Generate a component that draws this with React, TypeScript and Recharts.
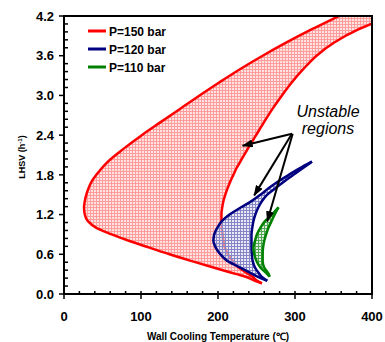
import {
  Area,
  ComposedChart,
  Customized,
  ReferenceArea,
  ReferenceLine,
  XAxis,
  YAxis,
} from "recharts";

const lhsv = [
  0.16, 0.2, 0.26, 0.3, 0.4, 0.5, 0.6, 0.7, 0.8, 0.9, 1.0, 1.1, 1.2, 1.31, 1.4,
  1.5, 1.6, 1.7, 1.8, 1.9, 2.0, 2.2, 2.4, 2.6, 2.8, 3.0, 3.2, 3.4, 3.6, 3.8, 4.0,
  4.2,
];

// wall cooling temperature (C) of left / right edge of each unstable region
const p150Left = [
  257, 248, 236, 224, 194, 165, 137, 111, 85, 62, 42, 31, 27, 26, 27, 29, 32, 36,
  42, 49, 57, 78, 101, 126, 151, 176, 202, 229, 258, 289, 322, 357,
];
const p150Right = [
  257, 251, 245, 240, 227, 219, 213, 209, 207, 206, 205, 204.5, 204.5, 205.5,
  207, 209.5, 212.5, 216, 220, 224, 229, 239, 249.5, 260, 271, 283, 296, 311, 328,
  351, 383, 425,
];
const p120Left = [
  null, 264, 252, 245, 229, 212, 203, 197, 194, 195, 199, 205, 215, 230, 243,
  255, 266, 278, 292, 306, 322, null, null, null, null, null, null, null, null,
  null, null, null,
];
const p120Right = [
  null, 264, 257, 254, 248, 245, 244, 243.5, 243.5, 243.5, 244.5, 246, 248.5,
  252.5, 257, 264, 275, 286, 298, 310, 322, null, null, null, null, null, null,
  null, null, null, null, null,
];
const p110Left = [
  null, null, 267, 264, 255, 250, 247, 246, 248, 250.5, 255, 261, 270, 278.5,
  null, null, null, null, null, null, null, null, null, null, null, null, null,
  null, null, null, null, null,
];
const p110Right = [
  null, null, 267, 266, 260, 258, 258, 258.5, 260, 262.5, 265.5, 269.5, 273.5,
  278.5, null, null, null, null, null, null, null, null, null, null, null, null,
  null, null, null, null, null, null,
];

const xTicks = [0, 100, 200, 300, 400];
const xMinorTicks = [
  0, 20, 40, 60, 80, 100, 120, 140, 160, 180, 200, 220, 240, 260, 280, 300, 320,
  340, 360, 380, 400,
];
const yTicks = [0, 0.6, 1.2, 1.8, 2.4, 3.0, 3.6, 4.2];
const yMinorTicks = [
  0, 0.12, 0.24, 0.36, 0.48, 0.6, 0.72, 0.84, 0.96, 1.08, 1.2, 1.32, 1.44, 1.56,
  1.68, 1.8, 1.92, 2.04, 2.16, 2.28, 2.4, 2.52, 2.64, 2.76, 2.88, 3.0, 3.12, 3.24,
  3.36, 3.48, 3.6, 3.72, 3.84, 3.96, 4.08, 4.2,
];

const series = [
  { key: "p150", name: "P=150 bar", color: "#ff0000", pattern: "hatchRed" },
  { key: "p120", name: "P=120 bar", color: "#000080", pattern: "hatchBlue" },
  { key: "p110", name: "P=110 bar", color: "#008000", pattern: "hatchGreen" },
];

// arrows from the "Unstable regions" note, in data units
const arrows = [
  { from: { x: 296, y: 2.42 }, to: { x: 232, y: 2.24 } },
  { from: { x: 296, y: 2.42 }, to: { x: 247, y: 1.49 } },
  { from: { x: 297, y: 2.42 }, to: { x: 264, y: 1.1 } },
];

const rows = lhsv.map((y, i) => ({
  y,
  p150: [p150Left[i], p150Right[i]],
  p120: [p120Left[i], p120Right[i]],
  p110: [p110Left[i], p110Right[i]],
}));

const font = "'Liberation Sans', Arial, sans-serif";

const XTick = ({ x, y, payload }: any) => {
  const major = xTicks.includes(payload.value);
  return (
    <g>
      <line x1={x} x2={x} y1={y - 3} y2={major ? y + 5 : y} stroke="#000" strokeWidth={1.5} />
      {major && (
        <text x={x} y={y + 27} textAnchor="middle" fontFamily={font} fontWeight="bold" fontSize={13} fill="#000">
          {payload.value}
        </text>
      )}
    </g>
  );
};

const YTick = ({ x, y, payload }: any) => {
  const major = yTicks.includes(payload.value);
  return (
    <g>
      {major ? (
        <line x1={x - 5} x2={x} y1={y} y2={y} stroke="#000" strokeWidth={1.5} />
      ) : (
        <line x1={x} x2={x + 4} y1={y} y2={y} stroke="#000" strokeWidth={1.5} />
      )}
      {major && (
        <text x={x - 10} y={y} dy="0.36em" textAnchor="end" fontFamily={font} fontWeight="bold" fontSize={13} fill="#000">
          {payload.value.toFixed(1)}
        </text>
      )}
    </g>
  );
};

const Notes = () => (
  <g fontFamily={font}>
    {series.map((s, i) => (
      <g key={s.key}>
        <line x1={88} x2={106} y1={31 + i * 18} y2={31 + i * 18} stroke={s.color} strokeWidth={3} />
        <text x={109} y={35.5 + i * 18} fontSize={12} fontWeight="bold" fill="#000">
          {s.name}
        </text>
      </g>
    ))}
    <text x={328} y={117} textAnchor="middle" fontSize={16} fontStyle="italic" fill="#000">
      Unstable
    </text>
    <text x={328} y={134} textAnchor="middle" fontSize={16} fontStyle="italic" fill="#000">
      regions
    </text>
    <text x={218} y={340} textAnchor="middle" fontSize={10} fontWeight="bold" fill="#000">
      Wall Cooling Temperature (℃)
    </text>
    <text x={22} y={157} transform="rotate(-90 22 157)" textAnchor="middle" dy="0.35em" fontSize={9} fontWeight="bold" fill="#000">
      LHSV (h
      <tspan dy={-3} fontSize={6}>-1</tspan>
      <tspan dy={3}>)</tspan>
    </text>
  </g>
);

const ArrowShape = (p: any) => (
  <line x1={p.x1} y1={p.y1} x2={p.x2} y2={p.y2} stroke="#000" strokeWidth={2} markerEnd="url(#arrowHead)" />
);

export default function App() {
  return (
    <div style={{ position: "absolute", left: 0, top: 0 }}>
      <ComposedChart
        width={385}
        height={342}
        data={rows}
        layout="vertical"
        margin={{ top: 16, right: 13, bottom: 0, left: 0 }}
      >
        <defs>
          <pattern id="hatchRed" width="3" height="3" patternUnits="userSpaceOnUse">
            <rect width="3" height="3" fill="#ffd6d6" fillOpacity={0.7} />
            <path d="M0 0.5H3M0.5 0V3" stroke="#ff9c9c" strokeWidth={1} />
          </pattern>
          <pattern id="hatchBlue" width="3" height="3" patternUnits="userSpaceOnUse">
            <rect width="3" height="3" fill="#dcdcf0" fillOpacity={0.6} />
            <path d="M0 0.5H3M0.5 0V3" stroke="#8686c6" strokeWidth={1} />
          </pattern>
          <pattern id="hatchGreen" width="3" height="3" patternUnits="userSpaceOnUse">
            <rect width="3" height="3" fill="#d4ead4" fillOpacity={0.7} />
            <path d="M0 0.5H3M0.5 0V3" stroke="#52a852" strokeWidth={1} />
          </pattern>
          <marker id="arrowHead" viewBox="0 0 11 8" refX={10} refY={4} markerWidth={11} markerHeight={8} markerUnits="userSpaceOnUse" orient="auto">
            <path d="M0 0L11 4L0 8z" fill="#000" />
          </marker>
        </defs>
        <XAxis
          type="number"
          domain={[0, 400]}
          allowDataOverflow
          ticks={xMinorTicks}
          interval={0}
          tick={<XTick />}
          tickLine={false}
          tickSize={0}
          tickMargin={0}
          height={48}
          axisLine={{ stroke: "#000", strokeWidth: 2 }}
        />
        <YAxis
          type="number"
          dataKey="y"
          domain={[0, 4.2]}
          reversed
          ticks={yMinorTicks}
          interval={0}
          tick={<YTick />}
          tickLine={false}
          tickSize={0}
          tickMargin={0}
          width={64}
          axisLine={{ stroke: "#000", strokeWidth: 2 }}
        />
        {series.map((s) => (
          <Area
            key={s.key}
            dataKey={s.key}
            name={s.name}
            type="monotone"
            stroke={s.color}
            strokeWidth={2.5}
            fill={`url(#${s.pattern})`}
            fillOpacity={1}
            dot={false}
            activeDot={false}
            isAnimationActive={false}
          />
        ))}
        <ReferenceArea x1={0} x2={400} y1={0} y2={4.2} fill="none" stroke="#000" strokeWidth={2} />
        {arrows.map((a, i) => (
          <ReferenceLine key={i} segment={[a.from, a.to]} shape={ArrowShape} />
        ))}
        <Customized component={Notes} />
      </ComposedChart>
    </div>
  );
}
